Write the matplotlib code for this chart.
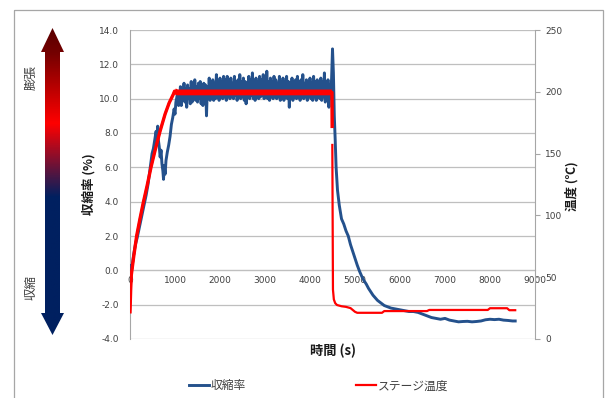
import numpy as np
import matplotlib
matplotlib.use("Agg")
import matplotlib.pyplot as plt
from matplotlib.colors import LinearSegmentedColormap
from matplotlib.patches import Polygon, Rectangle

plt.rcParams['font.family'] = ['Noto Sans CJK JP', 'DejaVu Sans']

# ---------------- data ----------------
# 収縮率 (%) : ramp part
t_ramp = [0, 20, 40, 80, 120, 160, 200, 240, 280, 320, 360, 400, 430, 460, 490,
          520, 550, 580, 600, 615, 630, 650, 670, 690, 710, 730, 745, 760, 780,
          800, 830, 860, 890, 920, 950, 980, 1000, 1020, 1050, 1080]
v_ramp = [-0.3, 0.3, 0.1, 0.9, 1.5, 1.9, 2.4, 2.9, 3.4, 3.9, 4.4, 5.0, 5.6, 6.2,
          6.8, 7.1, 7.6, 8.1, 7.4, 8.4, 7.6, 7.2, 6.6, 7.0, 6.2, 5.8, 5.3, 6.1,
          5.6, 6.4, 6.9, 7.3, 7.8, 8.5, 8.9, 9.4, 9.1, 9.8, 10.2, 9.6]

# plateau part, one reading every 20 s from 1100 s to 4480 s
t_plateau = list(range(1100, 4500, 20))
v_plateau = [
    9.9, 10.7, 9.6, 10.5, 10.0, 10.9, 9.8, 10.6, 9.5, 10.8,
    10.0, 10.6, 9.7, 11.0, 9.8, 10.8, 10.0, 11.1, 9.9, 10.7,
    9.8, 10.9, 10.0, 11.0, 9.7, 10.8, 9.6, 10.9, 9.9, 10.8,
    9.0, 10.7, 10.0, 11.2, 9.9, 11.0, 10.1, 11.1, 9.9, 10.9,
    10.0, 11.4, 10.1, 11.0, 9.9, 11.2, 10.1, 11.0, 10.0, 11.3,
    10.1, 11.1, 9.9, 11.3, 10.2, 11.0, 10.0, 11.2, 10.1, 10.9,
    10.0, 11.3, 10.2, 11.0, 9.9, 11.1, 10.1, 11.4, 10.0, 11.0,
    10.1, 11.2, 9.9, 11.0, 9.7, 10.9, 10.1, 11.3, 10.0, 11.1,
    10.2, 11.5, 10.0, 11.0, 9.9, 11.2, 10.1, 11.0, 10.0, 11.3,
    10.1, 11.1, 10.2, 11.4, 10.0, 11.0, 10.1, 11.6, 10.0, 11.0,
    9.9, 11.2, 10.1, 11.0, 10.0, 11.3, 10.2, 11.1, 10.0, 10.9,
    10.1, 11.3, 9.9, 11.0, 10.1, 11.2, 9.9, 11.0, 10.1, 11.3,
    10.0, 11.0, 9.5, 10.9, 10.1, 11.2, 9.9, 11.0, 10.1, 11.1,
    10.0, 11.3, 10.1, 11.0, 9.9, 11.1, 10.1, 11.4, 10.0, 10.9,
    10.1, 11.1, 9.9, 11.0, 10.2, 11.2, 10.0, 10.9, 9.9, 11.3,
    10.1, 11.0, 9.9, 11.1, 10.1, 10.9, 10.0, 11.2, 9.9, 11.0,
    10.1, 11.5, 9.8, 10.9, 10.0, 11.1, 9.5, 10.8, 10.0, 11.2,
]

# after the heater is switched off
t_post = [4500, 4520, 4540, 4560, 4580, 4611, 4650, 4700, 4750, 4800, 4850, 4900,
          4950, 5000, 5050, 5100, 5150, 5200, 5250, 5300, 5350, 5400, 5450, 5500,
          5550, 5600, 5650, 5700, 5800, 5900, 6000, 6100, 6200, 6300, 6400, 6500,
          6600, 6700, 6800, 6900, 7000, 7100, 7200, 7300, 7400, 7500, 7600, 7700,
          7800, 7900, 8000, 8100, 8200, 8300, 8400, 8500, 8560]
v_post = [12.9, 11.5, 9.0, 7.6, 6.0, 4.67, 3.8, 3.0, 2.7, 2.3, 2.0, 1.5, 1.1, 0.7,
          0.3, -0.05, -0.35, -0.6, -0.8, -1.05, -1.25, -1.45, -1.6, -1.75, -1.85,
          -1.95, -2.05, -2.1, -2.2, -2.25, -2.3, -2.35, -2.4, -2.4, -2.45, -2.55,
          -2.65, -2.75, -2.8, -2.85, -2.8, -2.9, -2.95, -3.0, -2.98, -2.97, -3.0,
          -2.98, -2.95, -2.88, -2.85, -2.87, -2.85, -2.9, -2.92, -2.95, -2.95]

# ステージ温度 (℃)
t_temp = [0, 15, 30, 80, 148, 220, 296, 380, 467, 560, 667, 780, 870, 963, 990,
          1050, 2000, 3000, 4000, 4488, 4492, 4494, 4496, 4510, 4530, 4560, 4600,
          4700, 4800, 4900, 4950, 5000, 5050, 5600, 5650, 6600, 6650, 7950, 8000,
          8380, 8430, 8560]
temp = [22, 40, 52, 66, 83.5, 97, 110.5, 124, 139, 153, 168, 182, 191, 198, 200.5,
        199.5, 199.5, 199.5, 199.5, 199.5, 172, np.nan, 157, 40, 32, 29, 27.5,
        26.5, 26, 25, 23.5, 22, 21.2, 21.2, 22.6, 22.6, 23.5, 23.5, 24.9, 24.9,
        23.3, 23.3]

x_ticks = [0, 1000, 2000, 3000, 4000, 5000, 6000, 7000, 8000, 9000]
left_ticks = [-4, -2, 0, 2, 4, 6, 8, 10, 12, 14]
right_ticks = [0, 50, 100, 150, 200, 250]

# ---------------- figure ----------------
W, H = 611, 398
fig = plt.figure(figsize=(W / 100, H / 100), dpi=100)

x0, x1, ytop, ybot = 130, 535, 30, 339
ax = fig.add_axes([x0 / W, 1 - ybot / H, (x1 - x0) / W, (ybot - ytop) / H])
ax2 = ax.twinx()

blue = '#24518c'
red = '#ff0000'
grid_c = '#bfbfbf'
txt_c = '#404040'

t_blue = np.array(t_ramp + t_plateau + t_post, dtype=float)
v_blue = np.array(v_ramp + v_plateau + v_post, dtype=float)
l1, = ax.plot(t_blue, v_blue, color=blue, lw=2.1, label='収縮率', zorder=3)

tt = np.array(t_temp, dtype=float)
TT = np.array(temp, dtype=float)
l2, = ax2.plot(tt, TT, color=red, lw=1.6, label='ステージ温度', zorder=3)
m1 = tt <= 4492
ax2.plot(tt[m1], TT[m1], color=red, lw=2.4, zorder=3)
m2 = (tt >= 990) & (tt <= 4488)
ax2.plot(tt[m2], TT[m2], color=red, lw=4.2, solid_capstyle='butt', zorder=3)

ax.set_xlim(0, 9000)
ax.set_ylim(-4, 14)
ax2.set_ylim(0, 250)
ax.set_xticks(x_ticks)
ax.set_yticks(left_ticks)
ax.set_yticklabels([f'{v:.1f}' for v in left_ticks])
ax2.set_yticks(right_ticks)
ax2.set_yticklabels([str(v) for v in right_ticks])

ax.grid(axis='y', color=grid_c, lw=0.9)
ax.set_axisbelow(True)
ax.spines['top'].set_visible(False)
ax.spines['right'].set_visible(False)
ax.spines['bottom'].set_position(('data', 0))
ax.spines['bottom'].set_color(grid_c)
ax.spines['left'].set_color('#a6a6a6')
for s in ['top', 'left', 'bottom']:
    ax2.spines[s].set_visible(False)
ax2.spines['right'].set_color('#a6a6a6')

ax.tick_params(axis='x', length=0, pad=4, colors=txt_c)
ax.tick_params(axis='y', length=0, pad=8, colors=txt_c)
ax2.tick_params(axis='y', length=3.5, width=0.8, color='#a6a6a6', pad=4,
                labelcolor=txt_c)
ax2.tick_params(axis='x', bottom=False, labelbottom=False)
for lab in ax.get_xticklabels() + ax.get_yticklabels() + ax2.get_yticklabels():
    lab.set_fontfamily('DejaVu Sans')
    lab.set_fontsize(6.5)

ax.set_xlabel('時間 (s)', fontsize=9.5, fontweight='bold', color='#1a1a1a')
ax.xaxis.set_label_coords((333 - x0) / (x1 - x0), (ybot - 351) / (ybot - ytop))
ax.xaxis.label.set_va('center')
ax.set_ylabel('収縮率 (%)', fontsize=9, fontweight='bold', color='#1a1a1a')
ax.yaxis.set_label_coords((89 - x0) / (x1 - x0), (ybot - 184) / (ybot - ytop))
ax.yaxis.label.set_va('center')
ax2.set_ylabel('温度 (℃)', fontsize=9, fontweight='bold', color='#1a1a1a',
               rotation=90)
ax2.yaxis.set_label_coords((572 - x0) / (x1 - x0), (ybot - 186) / (ybot - ytop))
ax2.yaxis.label.set_va('center')
ax2.yaxis.label.set_ha('center')

fig.legend(handles=[l1, l2], loc='center', bbox_to_anchor=((187 + 450) / 2 / W, 1 - 386 / H),
           ncol=2, frameon=False, fontsize=8.5, handlelength=1.7,
           handletextpad=0.15, columnspacing=9.3, labelcolor=txt_c)

# ---------------- overlay: border + gradient arrow ----------------
ov = fig.add_axes([0, 0, 1, 1], zorder=-1)
ov.set_xlim(0, W)
ov.set_ylim(H, 0)
ov.axis('off')
ov.add_patch(Rectangle((14, 10), 589, 400, facecolor='none', edgecolor='#a6a6a6',
                       lw=0.9, clip_on=False))

top_tip, head1, head2, bot_tip = 28, 52, 313, 335
span = bot_tip - top_tip
cmap = LinearSegmentedColormap.from_list('arr', [
    (0.0, '#5a0000'),
    ((head1 - top_tip) / span, '#740000'),
    ((123 - top_tip) / span, '#ff0000'),
    ((197 - top_tip) / span, '#002060'),
    (1.0, '#002060'),
])
grad = np.linspace(0, 1, 400).reshape(-1, 1)
im = ov.imshow(grad, cmap=cmap, extent=[40, 65, bot_tip, top_tip], aspect='auto',
               origin='upper', interpolation='bilinear')
cx = 52.5
pts = [(cx, top_tip), (64, head1), (60, head1), (60, head2), (64, head2),
       (cx, bot_tip), (41, head2), (45, head2), (45, head1), (41, head1)]
poly = Polygon(pts, closed=True, facecolor='none', edgecolor='none')
ov.add_patch(poly)
im.set_clip_path(poly)

ov.text(31, 78, '膨張', rotation=90, ha='center', va='center', fontsize=9, color=txt_c)
ov.text(31, 288, '収縮', rotation=90, ha='center', va='center', fontsize=9, color=txt_c)

fig.savefig('out.png', dpi=100)
